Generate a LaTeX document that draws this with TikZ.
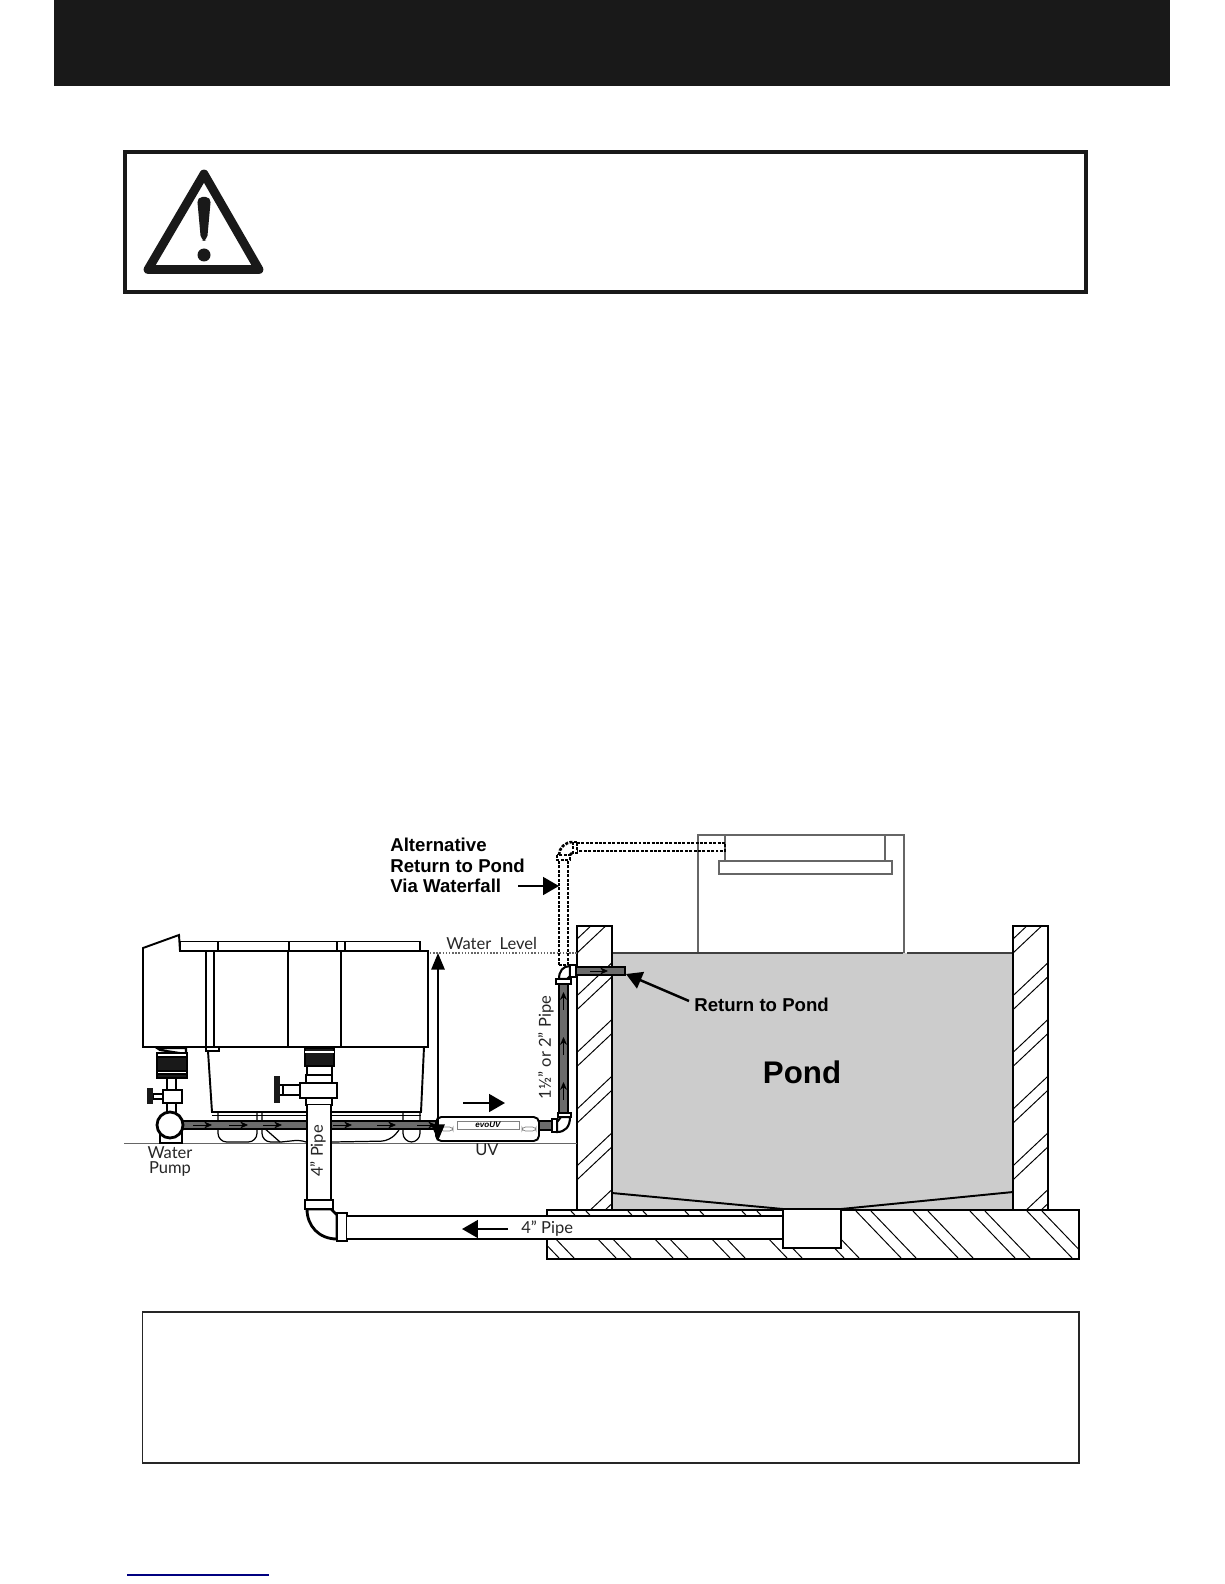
\documentclass[tikz,border=0pt]{standalone}
\usepackage{fontspec}
\setmainfont{Lato}
\newfontfamily\arialfont{Liberation Sans}
\usetikzlibrary{arrows.meta,positioning}

\begin{document}
\begin{tikzpicture}[
    x=0.02cm, y=-0.02cm,
    %% lines
    wall/.style={line width=1.5pt},
    line/.style={line width=1.1pt},
    hatch/.style={line width=0.55pt},
    grayline/.style={line width=0.8pt, draw=black!60},
    pipefill/.style={draw=black, line width=1.3pt, fill=black!58},
    whitepart/.style={draw=black, line width=1.2pt, fill=white},
    blackpart/.style={draw=black, line width=0.8pt, fill=black!90},
    dashpipe/.style={line width=1.5pt, dash pattern=on 1.7pt off 0.8pt},
    %% arrows
    bigarr/.style={-{Triangle[length=9pt,width=10pt]}, line width=1.4pt},
    flowarr/.style={-{Stealth[length=4.5pt,width=4pt]}, line width=0.45pt},
    %% labels
    lightlabel/.style={font=\fontsize{9.4}{8.7}\selectfont, text=black!85, inner sep=0pt, align=center},
    boldlabel/.style={font=\arialfont\bfseries\fontsize{10.6}{11.6}\selectfont, inner sep=0pt, align=left}
]
    \useasboundingbox[fill=white] (0,0) rectangle (1224,1584);

    %% Header band
    \fill[black!90] (54,0) rectangle (1170,86);

    %% Warning box
    \draw[line width=1.75pt, black!90] (125,152) rectangle (1086,292);
    \draw[line width=5pt, line join=round, black!90] (204,174) -- (148,269.5) -- (259,269.5) -- cycle;
    \fill[black!90, rounded corners=3pt] (197,197) -- (211,197) -- (207,241) -- (201,241) -- cycle;
    \fill[black!90] (204,255) circle (6.5);

    %% Note box and rule at the foot
    \draw[line width=1pt, black!85] (142.5,1312) rectangle (1079,1463);
    \draw[line width=1pt, blue!50!black] (127,1575) -- (269,1575);

    %% Waterfall
    \draw[grayline] (698,953) -- (698,835) -- (904,835) -- (904,953);
    \draw[grayline] (725,861) -- (725,835);
    \draw[grayline] (885,861) -- (885,835);
    \draw[grayline] (719,861) rectangle (892,874);

    %% Pond
    \fill[black!20] (612,953) rectangle (1013,1210);
    \draw[grayline, draw=black!75] (612,953) -- (903,953);
    \draw[grayline, draw=black!75] (907,953) -- (1013,953);
    \draw[line] (612,1193) -- (783,1209);
    \draw[line] (841,1209) -- (1013,1192);

    %% Walls
    \begin{scope}
        \clip (577,926) rectangle (612,1210);
        \foreach \k in {0,...,5} {
            \draw[hatch] (577,939+56.7*\k) -- ++(35,-33);
            \draw[hatch] (577,953+56.7*\k) -- ++(35,-33);
        }
    \end{scope}
    \begin{scope}
        \clip (1013,926) rectangle (1048,1210);
        \foreach \k in {0,...,5} {
            \draw[hatch] (1013,939+56.7*\k) -- ++(35,-33);
            \draw[hatch] (1013,953+56.7*\k) -- ++(35,-33);
        }
    \end{scope}
    \draw[wall] (577,1210) -- (577,926) -- (612,926) -- (612,1210);
    \draw[wall] (1013,1210) -- (1013,926) -- (1048,926) -- (1048,1210);

    %% Base slab
    \begin{scope}
        \clip (547,1210) rectangle (1079,1259);
        \foreach \k in {-6,...,3} {
            \draw[hatch] (855+57*\k,1210) -- ++(47,49);
            \draw[hatch] (870+57*\k,1210) -- ++(47,49);
        }
    \end{scope}
    \draw[wall] (547,1210) rectangle (1079,1259);

    %% Ground
    \draw[line width=0.5pt, black!60] (124,1143) -- (577,1143);

    %% Tank
    \draw[line, fill=white] (143,1047) -- (143,948) -- (179,935) -- (180,951) -- (428,951) -- (428,1047) -- cycle;
    \draw[line, fill=white] (180,941.5) rectangle (420,951);
    \foreach \tx in {218,289,337,345} \draw[line] (\tx,941.5) -- (\tx,951);
    \foreach \tx in {214,288,341} \draw[line] (\tx,951) -- (\tx,1047);
    \draw[line] (206,951) -- (206,1051) -- (219,1051) -- (219,1047);
    \draw[line] (208,1051) -- (212,1112) -- (421,1112) -- (424,1047);
    \draw[line width=0.5pt] (212,1115) -- (421,1115);
    \draw[line width=0.7pt, rounded corners=5pt] (218,1112) -- (218,1142) -- (257,1142) -- (257,1112);
    \draw[line width=0.7pt, rounded corners=5pt] (262,1112) -- (262,1142) -- (281,1142);
    \draw[line width=0.7pt] (263,1127) -- (280,1142);
    \draw[line width=0.7pt, rounded corners=3pt] (281,1142) -- (300,1140) -- (306,1142);
    \draw[line width=0.7pt, rounded corners=5pt] (332,1142) -- (390,1141) -- (399,1130);
    \draw[line width=0.7pt, rounded corners=5pt] (403,1112) -- (403,1142) -- (420,1142) -- (420,1112);

    %% Pump
    \draw[whitepart] (160,1125) rectangle (182,1143);
    \draw[whitepart] (157,1048) -- (186,1048) -- (186,1054) -- (160,1050) -- cycle;
    \fill[blackpart] (157,1057) rectangle (187,1071);
    \draw[whitepart] (157,1053) rectangle (187,1057);
    \draw[whitepart] (157,1071) rectangle (187,1074);
    \draw[blackpart] (157,1074) rectangle (187,1078);
    \draw[whitepart] (167,1078) rectangle (176,1090);
    \draw[whitepart] (163,1090) rectangle (182,1103);
    \draw[whitepart] (153,1094) rectangle (163,1099);
    \fill[black!90] (147,1088) rectangle (153,1104);
    \draw[whitepart] (167,1103) rectangle (176,1113);

    %% Main pipe to the UV
    \draw[pipefill] (183,1121) rectangle (436,1129);
    \foreach \fx in {193,229,263,333,377,417}
        \draw[flowarr] (\fx,1125) -- ++(19,0);
    \draw[whitepart, line width=1.6pt] (170,1125) circle (13);

    %% Strainer pipe, 4 inch
    \draw[blackpart] (305,1048) rectangle (334,1066);
    \draw[white, line width=0.8pt] (305,1052) -- (334,1052);
    \draw[whitepart] (307,1066) rectangle (332,1075);
    \draw[whitepart] (306,1075) rectangle (332,1083);
    \draw[whitepart] (300,1083) rectangle (337,1098);
    \draw[whitepart] (283,1085) rectangle (300,1095);
    \fill[black!90] (274,1076) rectangle (280,1103);
    \draw[line] (280,1085) -- (283,1085);
    \draw[line] (280,1095) -- (283,1095);
    \draw[whitepart] (306,1098) rectangle (332,1105);
    \fill[white] (307,1105) rectangle (331,1200);
    \draw[line] (307,1105) -- (307,1200);
    \draw[line] (331,1105) -- (331,1200);

    %% Elbow and return to the pump
    \draw[whitepart, line width=1.6pt] (307,1209) .. controls (307,1226) and (319,1239) .. (337,1239) -- (337,1215) -- (331,1209) -- cycle;
    \draw[whitepart, line width=1.6pt] (305,1200) rectangle (333,1209);
    \draw[whitepart, line width=1.6pt] (337,1213) rectangle (347,1241);
    \fill[white] (347,1216) rectangle (783,1239);
    \draw[line] (347,1216) -- (783,1216);
    \draw[line] (347,1239) -- (783,1239);
    \draw[wall, fill=white] (783,1209) rectangle (841,1248);

    %% UV lamp
    \draw[line, fill=white, rounded corners=3pt] (436,1117) rectangle (539,1141);
    \draw[line width=0.4pt, draw=black!50] (457,1121) rectangle (519,1129);
    \draw[line width=0.4pt, draw=black!50, rounded corners=2pt] (440,1127) rectangle (453,1131);
    \draw[line width=0.4pt, draw=black!50, rounded corners=2pt] (522,1127) rectangle (536,1131);
    \node[font=\arialfont\bfseries\itshape\fontsize{4.6}{5}\selectfont, inner sep=0pt] (uvbrand) at (488,1125) {evoUV};
    \node[lightlabel] (uvlabel) at (487,1150) {UV};

    %% Return pipe
    \draw[pipefill] (539,1121) rectangle (552,1130);
    \draw[whitepart] (570,1117) .. controls (570,1127) and (565,1132) .. (557,1132) -- (557,1122) -- (561,1117) -- cycle;
    \draw[whitepart] (552,1119) rectangle (557,1132);
    \draw[pipefill] (559,983) rectangle (568,1113);
    \draw[whitepart] (558,1113) rectangle (571,1117);
    \foreach \fy in {1100,1055,1010}
        \draw[flowarr] (563.5,\fy) -- ++(0,-18);
    \draw[whitepart] (559,979) .. controls (559,971) and (563,966) .. (570,966) -- (570,976) -- (567,979) -- cycle;
    \draw[whitepart] (556,979) rectangle (571,984);
    \draw[whitepart] (570,965) rectangle (576,977);
    \draw[pipefill] (576,967) rectangle (625,975);
    \draw[flowarr] (590,971) -- ++(18,0);

    %% Alternative return, dashed
    \draw[dashpipe] (559,965) -- (559,860);
    \draw[dashpipe] (568,965) -- (568,860);
    \draw[dashpipe] (559,965) -- (568,965);
    \draw[dashpipe] (557,855) rectangle (570,860);
    \draw[dashpipe] (559,855) .. controls (559,848) and (565,842) .. (573,842);
    \draw[dashpipe] (570,855) -- (573,852);
    \draw[dashpipe] (573,842) rectangle (577,853);
    \draw[dashpipe] (577,843) -- (725,843) -- (725,851) -- (577,851);

    %% Water level
    \draw[grayline, densely dotted, line width=0.6pt] (430,953) -- (577,953);
    \node[lightlabel, anchor=base west] (levellabel) at (446,949) {Water\ \ Level};
    \coordinate (levelup) at (438,953);
    \coordinate (leveldown) at (438,1141);
    \draw[line width=1.4pt, {Triangle[length=9.5pt,width=7.5pt]}-{Triangle[length=9.5pt,width=7.5pt]}] (levelup) -- (leveldown);

    %% Labels
    \node[lightlabel, anchor=north] (pumplabel) at (170,1146) {Water\\Pump};
    \node[lightlabel, rotate=90] (pipeupright) at (318,1151) {4” Pipe};
    \node[lightlabel, rotate=90] (pipereturn) at (546,1047.5) {1½” or 2” Pipe};
    \node[lightlabel, anchor=base west] (pipelevel) at (521,1233) {4” Pipe};
    \node[boldlabel, anchor=north west] (altlabel) at (390,838) {Alternative\\Return to Pond\\Via Waterfall};
    \node[boldlabel, anchor=base west] (returnlabel) at (694,1011) {Return to Pond};
    \node[font=\arialfont\bfseries\fontsize{17.8}{20}\selectfont, inner sep=0pt] (pondlabel) at (802,1072) {Pond};

    %% Arrows
    \coordinate (alttail) at (518,886);
    \coordinate (alttip) at (559,886);
    \draw[bigarr] (alttail) -- (alttip);
    \coordinate (returntail) at (689,1001);
    \coordinate (returntip) at (626,974);
    \draw[bigarr] (returntail) -- (returntip);
    \coordinate (flowtail) at (463,1103);
    \coordinate (flowtip) at (505,1103);
    \draw[bigarr] (flowtail) -- (flowtip);
    \coordinate (drainup) at (508,1229);
    \coordinate (draindown) at (462,1229);
    \draw[bigarr] (drainup) -- (draindown);
\end{tikzpicture}
\end{document}
